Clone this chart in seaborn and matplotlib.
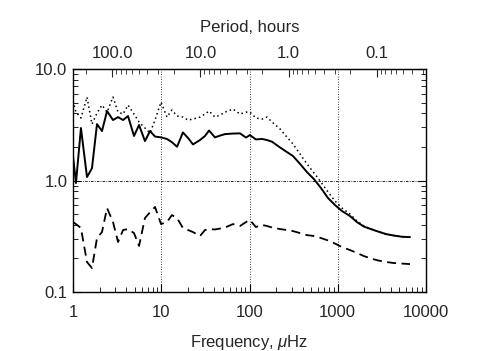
import numpy as np
import pandas as pd
import seaborn as sns
import matplotlib.pyplot as plt
from matplotlib.ticker import FormatStrFormatter, NullFormatter, FixedLocator

# frequency grid, microHz
freq = [1.00, 1.08, 1.23, 1.44, 1.64, 1.87, 2.13, 2.43, 2.84, 3.24,
        3.69, 4.20, 4.91, 5.60, 6.54, 7.46, 8.50, 9.94, 11.6, 13.2,
        15.1, 17.6, 20.1, 22.9, 27.5, 31.3, 34.8, 40.6, 46.3, 52.8,
        65.0, 78.0, 91.3, 101, 118, 139, 158, 180, 222, 266,
        311, 374, 448, 538, 646, 776, 931, 1117, 1377, 1652,
        1983, 2380, 2856, 3521, 4339, 5348, 6590]

solid = [1.66, 0.95, 2.96, 1.075, 1.29, 3.21, 2.78, 4.20, 3.49, 3.71,
         3.49, 3.79, 2.51, 3.15, 2.26, 2.78, 2.48, 2.44, 2.36, 2.21,
         2.01, 2.70, 2.41, 2.11, 2.31, 2.51, 2.81, 2.44, 2.53, 2.61,
         2.64, 2.65, 2.43, 2.56, 2.34, 2.36, 2.31, 2.23, 1.98, 1.80,
         1.66, 1.41, 1.19, 1.03, 0.856, 0.697, 0.603, 0.533, 0.480, 0.424,
         0.386, 0.367, 0.349, 0.331, 0.321, 0.313, 0.311]

dotted = [5.16, 4.11, 3.64, 5.61, 3.21, 4.03, 4.75, 4.11, 5.61, 4.11,
          3.95, 4.75, 3.95, 3.35, 2.96, 2.67, 3.49, 5.06, 3.71, 4.29,
          3.79, 3.71, 3.49, 3.56, 3.71, 3.95, 4.20, 3.71, 3.87, 4.11,
          4.38, 3.95, 4.11, 4.11, 3.64, 3.56, 3.71, 3.35, 2.90, 2.45,
          2.13, 1.73, 1.41, 1.17, 0.969, 0.789, 0.655, 0.567, 0.501, 0.433,
          0.391, 0.367, 0.349, 0.331, 0.321, 0.314, 0.311]

dashed = [0.424, 0.407, 0.375, 0.186, 0.164, 0.305, 0.345, 0.567, 0.424, 0.281,
          0.360, 0.367, 0.338, 0.259, 0.461, 0.52, 0.58, 0.407, 0.424, 0.49,
          0.461, 0.375, 0.360, 0.345, 0.318, 0.360, 0.367, 0.364, 0.371, 0.379,
          0.407, 0.391, 0.424, 0.443, 0.383, 0.40, 0.391, 0.379, 0.367, 0.360,
          0.352, 0.338, 0.324, 0.318, 0.305, 0.290, 0.272, 0.253, 0.238, 0.224,
          0.210, 0.200, 0.192, 0.186, 0.182, 0.180, 0.178]

grid_freqs = [10, 100, 1000]
period_ticks = [100.0, 10.0, 1.0, 0.1]

sns.set_style("ticks")
plt.rcParams['font.family'] = ['Liberation Sans', 'DejaVu Sans']
plt.rcParams['mathtext.fontset'] = 'custom'
plt.rcParams['mathtext.it'] = 'Liberation Sans:italic'
plt.rcParams['font.size'] = 12

df = pd.DataFrame({"freq": freq, "solid": solid, "dotted": dotted, "dashed": dashed})

fig = plt.figure(figsize=(4.91, 3.51), dpi=100)
ax = fig.add_axes([0.1487, 0.168, 0.7189, 0.6352])

for gf in grid_freqs:
    ax.axvline(gf, color="k", lw=0.6, ls=(0, (1, 2)), zorder=1)
ax.axhline(1.0, color="k", lw=0.6, ls=(0, (3, 1.5, 1, 1.5)), zorder=1)

sns.lineplot(data=df, x="freq", y="solid", color="k", lw=1.4, estimator=None, sort=False, ax=ax)
sns.lineplot(data=df, x="freq", y="dotted", color="k", lw=1.1, ls=(0, (1, 2)), estimator=None, sort=False, ax=ax)
sns.lineplot(data=df, x="freq", y="dashed", color="k", lw=1.3, ls=(0, (5, 3)), estimator=None, sort=False, ax=ax)

ax.set_xscale("log")
ax.set_yscale("log")
ax.set_xlim(1, 10000)
ax.set_ylim(0.1, 10)

ax.xaxis.set_major_formatter(FormatStrFormatter('%d'))
ax.xaxis.set_minor_formatter(NullFormatter())
ax.yaxis.set_major_formatter(FormatStrFormatter('%.1f'))
ax.yaxis.set_minor_formatter(NullFormatter())

ax.tick_params(which="both", direction="in", right=True, top=False, color="k")
ax.tick_params(which="major", length=6, width=0.8)
ax.tick_params(which="minor", length=3.5, width=0.6)
ax.tick_params(axis="x", which="both", pad=9)
ax.tick_params(axis="y", which="both", pad=4)

for sp in ax.spines.values():
    sp.set_linewidth(1.0)
    sp.set_color("k")

ax.set_xlabel(r"Frequency, $\mu$Hz", labelpad=10)
ax.set_ylabel("")


def f2p(f):
    f = np.asarray(f, dtype=float)
    with np.errstate(divide="ignore"):
        return 277.78 / f


# minor period ticks: 2..9 times each decade inside the range
minor_p = [m * 10.0 ** e for e in range(-2, 3) for m in range(2, 10)]
minor_p = [p for p in minor_p if 0.02778 <= p <= 277.78]

sec = ax.secondary_xaxis("top", functions=(f2p, f2p))
sec.xaxis.set_major_locator(FixedLocator(period_ticks))
sec.xaxis.set_minor_locator(FixedLocator(minor_p))
sec.xaxis.set_major_formatter(FormatStrFormatter('%.1f'))
sec.xaxis.set_minor_formatter(NullFormatter())
sec.tick_params(which="both", direction="in", pad=6)
sec.tick_params(which="major", length=6, width=0.8)
sec.tick_params(which="minor", length=3.5, width=0.6)
sec.set_xlabel("Period, hours", labelpad=10)

fig.savefig("out.png", dpi=100)
